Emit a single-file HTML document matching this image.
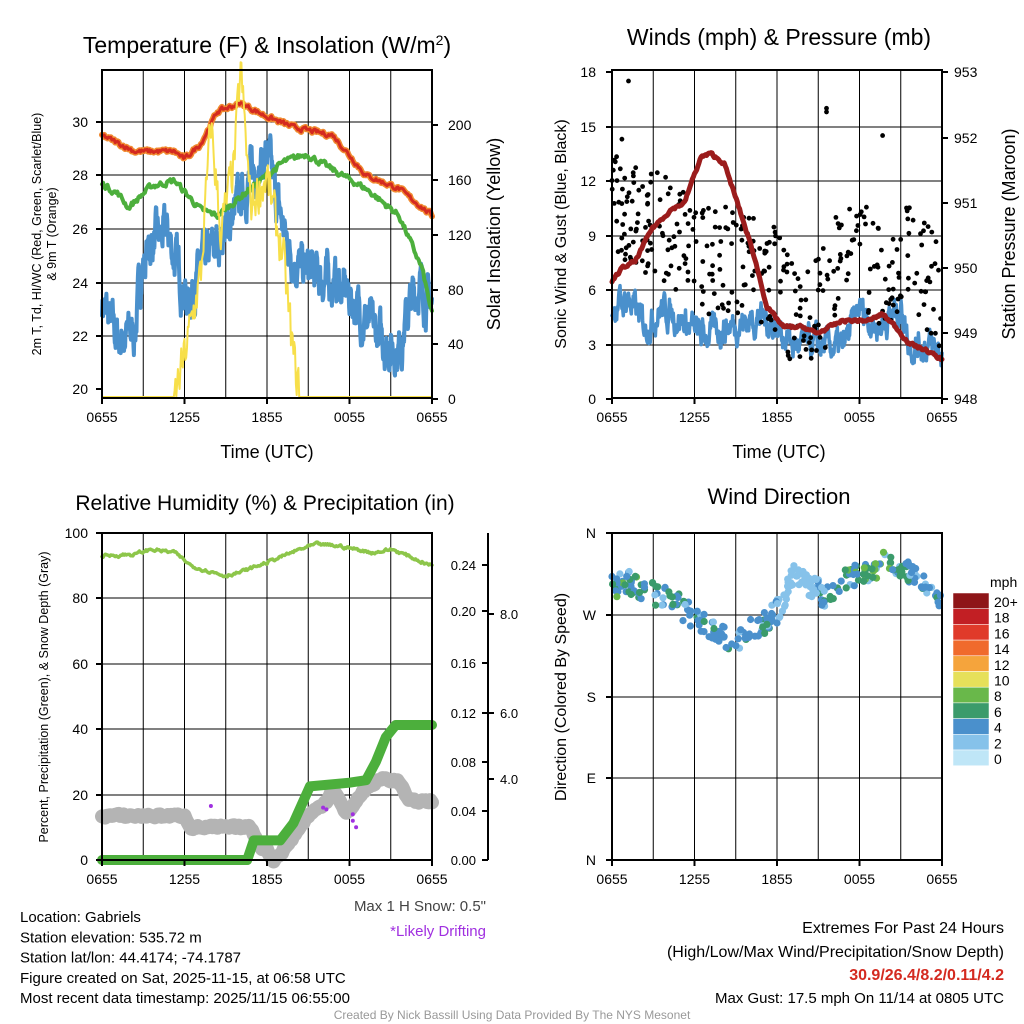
<!DOCTYPE html>
<html><head><meta charset="utf-8">
<style>
html,body{margin:0;padding:0;background:#fff;}
svg{display:block;font-family:"Liberation Sans",Arial,sans-serif;}
</style></head>
<body>
<svg id="s" width="1024" height="1024" viewBox="0 0 1024 1024" xmlns="http://www.w3.org/2000/svg">
<rect width="1024" height="1024" fill="#fff"/>
<g id="grid" stroke="#000" stroke-width="1" fill="none"></g>
<g id="data"></g>
<g id="axes" stroke="#000" stroke-width="2" fill="none"></g>
<g id="txt" fill="#000"></g>
</svg>
<script>
(function(){
var NS="http://www.w3.org/2000/svg";
function el(p,t,a,txt){var e=document.createElementNS(NS,t);for(var k in a)e.setAttribute(k,a[k]);if(txt!==undefined)e.textContent=txt;document.getElementById(p).appendChild(e);return e;}
var seed=7;function rnd(){seed=(seed*16807)%2147483647;return (seed-1)/2147483646;}
function interp(pts,t){for(var i=0;i<pts.length-1;i++){if(t<=pts[i+1][0]){var a=pts[i],b=pts[i+1];var f=(t-a[0])/(b[0]-a[0]);return a[1]+f*(b[1]-a[1]);}}return pts[pts.length-1][1];}
function series(pts,n,noise,smooth){var out=[],v=0;for(var i=0;i<=n;i++){var t=i/n;v=v*(smooth||0)+(rnd()-0.5)*noise;out.push([t,interp(pts,t)+v]);}return out;}
function poly(p,data,x0,x1,ymap,st,w,extra){var d=data.map(function(q){return (x0+q[0]*(x1-x0)).toFixed(1)+","+ymap(q[1]).toFixed(1);}).join(" ");var a={points:d,fill:"none",stroke:st,"stroke-width":w,"stroke-linejoin":"round","stroke-linecap":"round"};if(extra)for(var k in extra)a[k]=extra[k];el(p,"polyline",a);}
function text(x,y,s,size,anchor,extra){var a={x:x,y:y,"font-size":size,"text-anchor":anchor||"start"};if(extra)for(var k in extra)a[k]=extra[k];return el("txt","text",a,s);}

var xt=["0655","1255","1855","0055","0655"];
function frame(x0,x1,y0,y1,hlines){
  for(var i=1;i<8;i++){var x=x0+i*(x1-x0)/8;el("grid","line",{x1:x,y1:y0,x2:x,y2:y1});}
  hlines.forEach(function(y){el("grid","line",{x1:x0,y1:y,x2:x1,y2:y});});
}
function box(x0,x1,y0,y1){el("axes","rect",{x:x0,y:y0,width:x1-x0,height:y1-y0});
  for(var i=0;i<5;i++){var x=x0+i*(x1-x0)/4;el("axes","line",{x1:x,y1:y1,x2:x,y2:y1+6});text(x,y1+24,xt[i],14,"middle");}
}
// ---------- Panel 1 ----------
var A={x0:102,x1:432,y0:70,y1:398};
frame(A.x0,A.x1,A.y0,A.y1,[122,175,229,283,336]);
function yT(v){return 389-(v-20)*26.7;}
function yS(v){return 397-v*1.372;}
poly("data",series([[0,23.3],[.03,22.3],[.05,21.8],[.1,22.2],[.12,24.5],[.15,25.5],[.2,25.8],[.23,24.5],[.26,23.3],[.3,24.5],[.35,25.5],[.4,26.5],[.45,28],[.5,28.8],[.53,27],[.56,25.5],[.6,24.5],[.7,24],[.75,23.5],[.8,22.5],[.85,21.8],[.9,21.5],[.93,23],[.96,24],[1,23]],900,1.1,0.75),A.x0,A.x1,yT,"#4a90cc",4);
poly("data",series([[0,27.7],[.05,27.3],[.08,26.8],[.15,27.6],[.22,27.8],[.3,26.7],[.35,26.5],[.45,27.5],[.55,28.5],[.62,28.8],[.7,28.2],[.8,27.5],[.9,26.5],[.97,24.5],[1,22.8]],300,0.2,0.5),A.x0,A.x1,yT,"#4caf3c",4);
var red=series([[0,29.5],[.1,28.9],[.22,28.9],[.25,28.6],[.3,29.2],[.35,30.4],[.42,30.7],[.5,30.2],[.58,29.8],[.7,29.5],[.8,28.0],[.9,27.5],[1,26.5]],300,0.15,0.5);
poly("data",red,A.x0,A.x1,yT,"#f08a30",6);
poly("data",red,A.x0,A.x1,yT,"#d42a20",3);
poly("data",series([[0,0],[.22,0],[.25,30],[.3,90],[.33,200],[.36,120],[.4,170],[.42,240],[.45,140],[.5,160],[.55,100],[.58,30],[.6,0],[1,0]],400,30,0.3).map(function(q){return [q[0],(q[0]<.22||q[0]>.6)?0:Math.max(0,q[1])];}),A.x0,A.x1,yS,"#f7df4a",2);
box(A.x0,A.x1,A.y0,A.y1);
[[30,122],[28,175],[26,229],[24,283],[22,336],[20,389]].forEach(function(t){el("axes","line",{x1:A.x0-6,y1:t[1],x2:A.x0,y2:t[1]});text(A.x0-14,t[1]+5,t[0],14,"end");});
[[200,125],[160,180],[120,235],[80,290],[40,344],[0,399]].forEach(function(t){el("axes","line",{x1:A.x1,y1:t[1],x2:A.x1+6,y2:t[1]});text(A.x1+16,t[1]+5,t[0],14,"start");});
var tt=text(267,53,"Temperature (F) & Insolation (W/m",23,"middle");
var sp=document.createElementNS(NS,"tspan");sp.textContent="2";sp.setAttribute("baseline-shift","super");sp.setAttribute("font-size","14");tt.appendChild(sp);
tt.appendChild(document.createTextNode(")"));
text(267,458,"Time (UTC)",18,"middle");
text(0,0,"2m T, T",12.5,"middle",{transform:"translate(41,234) rotate(-90)"}).appendChild(document.createTextNode("d, HI/WC (Red, Green, Scarlet/Blue)"));
text(0,0,"& 9m T (Orange)",12.5,"middle",{transform:"translate(56,234) rotate(-90)"});
text(0,0,"Solar Insolation (Yellow)",18,"middle",{transform:"translate(500,234) rotate(-90)"});
// ---------- Panel 2 ----------
var B={x0:612,x1:942,y0:70,y1:398};
frame(B.x0,B.x1,B.y0,B.y1,[127,181,236,290,345]);
function yW(v){return 399-v*18.17;}
function yP(v){return 399-(v-948)*65.4;}
var wind=series([[0,5],[.05,5.5],[.1,4],[.15,5],[.2,4.5],[.27,3.5],[.35,4],[.45,4.5],[.5,4],[.55,3],[.6,3],[.7,2.8],[.75,5],[.8,4],[.88,5],[.9,3],[.95,3],[1,2.5]],700,1.2,0.7);
poly("data",wind,B.x0,B.x1,yW,"#4a90cc",3.5);
for(var i=0;i<330;i++){var t=rnd();var base=interp([[0,10],[.1,9],[.15,9],[.22,8],[.3,7],[.4,7],[.5,6],[.55,4],[.6,4.5],[.65,5],[.7,8],[.75,8.5],[.8,6],[.85,5.5],[.9,7.5],[1,5]],t);var v=base+(rnd()-0.4)*6;if(v<2)v=2+rnd();el("data","circle",{cx:(B.x0+t*(B.x1-B.x0)).toFixed(1),cy:yW(v).toFixed(1),r:2.4,fill:"#000"});}
[[.05,17.5],[.65,16],[.65,15.8],[.82,14.5],[.03,14.3]].forEach(function(q){el("data","circle",{cx:B.x0+q[0]*330,cy:yW(q[1]),r:2.4,fill:"#000"});});
poly("data",series([[0,949.8],[.03,950],[.07,950.1],[.12,950.6],[.18,950.9],[.22,951],[.24,951.3],[.27,951.7],[.3,951.75],[.34,951.6],[.38,951],[.43,950.2],[.47,949.4],[.52,949.1],[.58,949.1],[.62,949],[.7,949.2],[.78,949.2],[.82,949.3],[.86,949.1],[.9,948.85],[.95,948.75],[1,948.6]],300,0.04,0.5),B.x0,B.x1,yP,"#9b1c1c",5);
box(B.x0,B.x1,B.y0,B.y1);
[[18,72],[15,127],[12,181],[9,236],[6,290],[3,345],[0,399]].forEach(function(t){el("axes","line",{x1:B.x0-6,y1:t[1],x2:B.x0,y2:t[1]});text(B.x0-16,t[1]+5,t[0],14,"end");});
[[953,72],[952,138],[951,203],[950,268],[949,333],[948,399]].forEach(function(t){el("axes","line",{x1:B.x1,y1:t[1],x2:B.x1+6,y2:t[1]});text(B.x1+12,t[1]+5,t[0],14,"start");});
text(779,45,"Winds (mph) & Pressure (mb)",23,"middle");
text(779,458,"Time (UTC)",18,"middle");
text(0,0,"Sonic Wind & Gust (Blue, Black)",16,"middle",{transform:"translate(566,234) rotate(-90)"});
text(0,0,"Station Pressure (Maroon)",18,"middle",{transform:"translate(1015,234) rotate(-90)"});
// ---------- Panel 3 ----------
var C={x0:102,x1:432,y0:533,y1:860};
frame(C.x0,C.x1,C.y0,C.y1,[598,664,729,795]);
function yR(v){return 860-v*3.27;}
function yPr(v){return 860-v*1227;}
poly("data",series([[0,13.5],[.25,13.5],[.27,10],[.45,10],[.48,4],[.5,3],[.52,0],[.55,3],[.62,13],[.68,18],[.7,22],[.74,14],[.77,18],[.8,22],[.85,25],[.9,24],[.93,18],[1,18]],200,1.0,0.3),C.x0,C.x1,yR,"#b4b4b4",14);
poly("data",[[0,0],[.44,0],[.46,.016],[.54,.016],[.58,.03],[.63,.06],[.75,.063],[.8,.065],[.83,.08],[.86,.1],[.89,.11],[1,.11]],C.x0,C.x1,yPr,"#4caf3c",10);
poly("data",series([[0,93],[.1,93.5],[.15,95],[.22,94],[.27,90],[.37,87],[.42,88],[.5,91],[.6,95],[.65,96.5],[.72,96],[.82,94],[.88,95],[.95,92],[1,90]],300,0.8,0.6),C.x0,C.x1,yR,"#8dc64a",3.5);
[[.33,16.5],[.67,16],[.68,15.5],[.76,14],[.76,12],[.77,10]].forEach(function(q){el("data","circle",{cx:C.x0+q[0]*330,cy:yR(q[1]),r:2,fill:"#a030e0"});});
box(C.x0,C.x1,C.y0,C.y1);
[[100,533],[80,598],[60,664],[40,729],[20,795],[0,860]].forEach(function(t){el("axes","line",{x1:C.x0-6,y1:t[1],x2:C.x0,y2:t[1]});text(C.x0-14,t[1]+5,t[0],14,"end");});
el("axes","line",{x1:488,y1:533,x2:488,y2:860});
[["0.24",565],["0.20",611],["0.16",663],["0.12",713],["0.08",762],["0.04",811],["0.00",860]].forEach(function(t){el("axes","line",{x1:482,y1:t[1],x2:488,y2:t[1]});text(476,t[1]+5,t[0],13,"end");});
[["8.0",614],["6.0",713],["4.0",779]].forEach(function(t){el("axes","line",{x1:488,y1:t[1],x2:494,y2:t[1]});text(500,t[1]+5,t[0],13,"start");});
text(265,510,"Relative Humidity (%) & Precipitation (in)",21,"middle");
text(0,0,"Percent, Precipitation (Green), & Snow Depth (Gray)",12.5,"middle",{transform:"translate(48,697) rotate(-90)"});
text(486,911,"Max 1 H Snow: 0.5\"",15,"end",{fill:"#444"});
text(486,936,"*Likely Drifting",15,"end",{fill:"#a030e0"});
// ---------- Panel 4 ----------
var D={x0:612,x1:942,y0:533,y1:860};
frame(D.x0,D.x1,D.y0,D.y1,[615,697,778]);
var cols=["#bfe6f7","#86c2ea","#4a90cc","#3b9b6b","#69b84a","#e6e05a","#f5a43c","#f06a2c","#e03a2a","#c21f24","#8e1518"];
for(var i=0;i<300;i++){var t=rnd();var base=interp([[0,588],[.05,582],[.1,590],[.2,605],[.3,630],[.37,640],[.45,625],[.5,612],[.55,575],[.6,585],[.65,598],[.7,580],[.75,575],[.85,560],[.9,570],[.95,590],[1,595]],t);var y=base+(rnd()-0.5)*24;var c=t>.5&&t<.62?cols[1]:(rnd()<.6?cols[2]:(rnd()<.5?cols[1]:cols[3]));if((t<.1||(t>.7&&t<.9))&&rnd()<.5)c=cols[3+(rnd()<.3?1:0)];el("data","circle",{cx:(D.x0+t*330).toFixed(1),cy:y.toFixed(1),r:3.6,fill:c});}
box(D.x0,D.x1,D.y0,D.y1);
[["N",533],["W",615],["S",697],["E",778],["N",860]].forEach(function(t){el("axes","line",{x1:D.x0-6,y1:t[1],x2:D.x0,y2:t[1]});text(D.x0-16,t[1]+5,t[0],14,"end");});
text(779,504,"Wind Direction",22,"middle");
text(0,0,"Direction (Colored By Speed)",16,"middle",{transform:"translate(566,697) rotate(-90)"});
var labs=["20+","18","16","14","12","10","8","6","4","2","0"];
for(var i=0;i<11;i++){var y=593+i*15.7;el("data","rect",{x:953,y:y,width:36,height:15.7,fill:cols[10-i],stroke:"#fff","stroke-width":0.5});text(994,y+14,labs[i],14,"start");}
text(990,587,"mph",14,"start");
["Location: Gabriels","Station elevation: 535.72 m","Station lat/lon: 44.4174; -74.1787","Figure created on Sat, 2025-11-15, at 06:58 UTC","Most recent data timestamp: 2025/11/15 06:55:00"].forEach(function(s,i){text(20,922+i*20.3,s,15,"start");});
text(1004,933,"Extremes For Past 24 Hours",16,"end");
text(1004,957,"(High/Low/Max Wind/Precipitation/Snow Depth)",16,"end");
text(1004,980,"30.9/26.4/8.2/0.11/4.2",16,"end",{fill:"#d42a20","font-weight":"bold"});
text(1004,1003,"Max Gust: 17.5 mph On 11/14 at 0805 UTC",15,"end");
text(512,1019,"Created By Nick Bassill Using Data Provided By The NYS Mesonet",12,"middle",{fill:"#999"});
})();
</script>
</body></html>
